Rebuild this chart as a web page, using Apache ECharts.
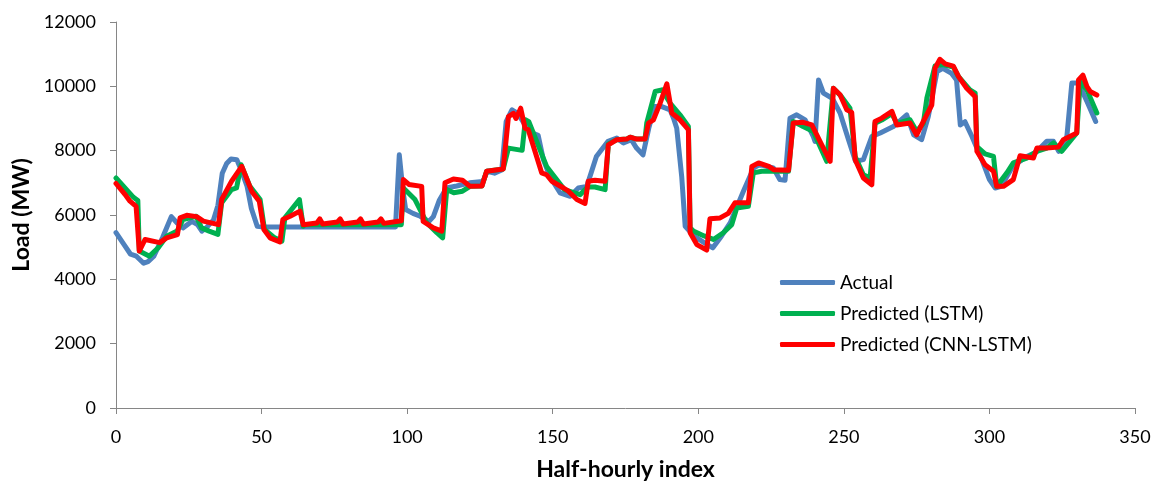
<!DOCTYPE html>
<html>
<head>
<meta charset="utf-8">
<script src="https://cdn.jsdelivr.net/npm/echarts@6/dist/echarts.min.js"></script>
<style>html,body{margin:0;padding:0;background:#fff;}#c{width:1166px;height:486px;}</style>
</head>
<body>
<div id="c"></div>
<script>
const seriesNames = ['Actual', 'Predicted (LSTM)', 'Predicted (CNN-LSTM)'];
const xTicks = [0, 50, 100, 150, 200, 250, 300, 350];
const yTicks = [0, 2000, 4000, 6000, 8000, 10000, 12000];

const actualX = [0,3,5,7,9.5,11,13,16,19,21,23,26,28,29.5,31,33.5,35,36.5,38,39.5,41.5,43,45,46.5,48.5,50,96,97.3,98.5,99.5,102,104.5,107.5,109,111,113.5,117,121.5,126,127.5,130,132.5,134,136,138,140.5,143,145,146.8,149,152.5,156,158.8,161.7,165,169,172,174.3,177,178.8,181,183,185,187.5,190.3,191.5,192.6,194.3,195.5,198.5,202,205,208,211,215.5,219,221,225.8,228,229.8,231.5,233.8,236.7,239.5,240.1,241.3,243,246,248.7,251.6,254,256.7,259.6,262.5,267,271.6,274,276.7,279,282,284,287,288.7,290,291.6,294,297.4,300,302,304,308,312.8,316,319.7,322,323.8,326.6,328.3,330.6,333.5,336.5];
const actualY = [5450,5050,4780,4720,4500,4550,4720,5300,5950,5750,5600,5800,5700,5500,5600,5850,6300,7300,7600,7740,7720,7400,6900,6200,5650,5630,5630,7870,6800,6170,6050,5960,5800,5950,6450,6840,6900,7000,7040,7360,7300,7400,8900,9270,9160,8800,8550,8480,7720,7200,6690,6580,6840,6890,7820,8290,8390,8240,8340,8080,7870,8700,9370,9370,9270,9010,8700,7200,5650,5350,5140,4980,5350,5760,6740,7460,7565,7460,7100,7080,9010,9115,8960,8440,8290,10200,9790,9630,9170,8340,7670,7720,8440,8550,8750,9110,8490,8340,9060,10460,10560,10400,10200,8800,8900,8440,7720,7100,6840,6890,7510,7820,7950,8290,8290,7980,8440,10100,10100,9530,8910];

const lstmX = [0,3,6,7.5,8,11.5,14.5,17.4,21,23,27.5,29.4,32,35,36.3,39.7,41.4,43,46,49.5,51,54.5,57,58,63,64.3,65,98,98.7,102.7,106.7,110.2,112.2,113.6,116,119,121.6,125.7,127.3,133,134.8,139.5,140.6,141.8,147.9,154,159.4,162,164.5,168,169.1,172,175.4,176.6,178.8,181.7,182.3,185.2,187.5,190.3,193.7,196.6,197.2,198.3,202,205.2,208.6,211.5,213.2,217.2,218.9,221.8,231,232.6,236,239.5,244.1,246.4,249,252.1,253.9,256.7,259,259.6,260.7,263,266.5,268.2,272.7,275,277.3,278.5,281.3,284,287.6,289.4,293.3,295.1,295.7,298.5,301.4,302.5,306,308.2,312.8,316.3,319.7,322,324.8,330,331.2,333.5,336.9];
const lstmY = [7150,6850,6550,6450,4880,4720,4980,5340,5500,5860,5960,5600,5500,5400,6380,6790,6840,7560,6890,6480,5550,5290,5190,5910,6480,5650,5700,5700,6840,6480,5760,5450,5290,6790,6690,6740,6890,6900,7360,7430,8080,8010,8960,8900,7510,6790,6630,6870,6870,6790,8210,8340,8360,8420,8360,8360,8860,9840,9890,9480,9115,8750,5600,5500,5350,5240,5450,5700,6220,6270,7310,7360,7360,8910,8750,8600,7670,9940,9700,9320,7820,7250,7150,7100,8850,8950,9150,8850,8960,8600,8850,9630,10630,10680,10600,10300,9890,9790,8130,7900,7820,6890,7310,7620,7770,7980,8080,8240,7980,8550,10150,9890,9170];

const cnnX = [0,3,4.8,6.9,8,10,15,17.4,21.1,22,24.3,27.7,30,35.2,36.3,39.7,43.2,46.6,49.2,50.8,52.9,56.3,57.3,59.8,63.2,64.3,69,70,71,76,77,78,83,84,85,90,91,92,98,98.7,100.6,105,105.5,109,111.9,113,115.9,119,121.6,125.7,127.3,133,134.8,136.5,137.4,139,140.5,141.6,146.2,147.9,149.7,153.7,155.4,158.3,161.1,162.2,164.5,168,169.1,172,175.4,176.6,178.8,181.7,182.9,184.6,186.9,189.2,190.9,193.7,196.6,197.2,199.5,202.9,204,207.5,210.3,212.6,217.2,218.4,220.7,224.2,225.9,231,232.6,236,239,242.4,245.3,246.4,248.7,251,252.7,253.9,256.7,259.6,260.7,263,266.5,268.2,272.7,275,277.3,280.2,281.3,283,284.8,287.6,289.4,292.2,295.1,295.7,298.5,301.4,302.5,304.8,308.2,310.5,315.1,316.3,319.7,323.7,325.4,330,330.6,332.1,333.5,334.6,336.9];
const cnnY = [6980,6650,6430,6270,4880,5240,5140,5290,5390,5910,5990,5950,5810,5700,6480,7050,7510,6740,6430,5550,5290,5160,5860,5960,6120,5700,5750,5880,5720,5780,5880,5720,5780,5880,5720,5780,5880,5740,5820,7100,6950,6890,5800,5600,5500,7000,7120,7080,6890,6900,7360,7430,9060,9160,9000,9320,8700,8650,7310,7250,7050,6840,6740,6480,6360,7050,7080,7050,8180,8340,8360,8420,8360,8360,8860,8960,9480,10080,9170,8960,8650,5450,5080,4910,5880,5910,6050,6380,6380,7510,7620,7510,7410,7390,8860,8880,8800,8180,7670,9940,9740,9270,9190,7720,7150,6940,8910,9010,9220,8800,8860,8490,8910,9420,10560,10840,10700,10630,10300,9940,9680,7980,7560,7360,6890,6890,7100,7840,7770,8080,8080,8110,8340,8550,10200,10350,9990,9840,9730];

const pairs = (xs, ys) => xs.map((x, i) => [x, ys[i]]);
const font = 'Lato, "Open Sans", sans-serif';
const chart = echarts.init(document.getElementById('c'));
const lineSeries = (name, xs, ys, color) => ({
  name, type: 'line', data: pairs(xs, ys), showSymbol: false, symbol: 'none',
  lineStyle: { width: 5, color, cap: 'round', join: 'round' }, itemStyle: { color },
  animation: false
});
chart.setOption({
  animation: false,
  grid: { left: 116, right: 31, top: 22, bottom: 77 },
  legend: {
    orient: 'vertical', left: 775, top: 268, itemWidth: 55, itemHeight: 5, itemGap: 12,
    icon: 'roundRect',
    textStyle: { fontFamily: font, fontSize: 19, lineHeight: 19, color: '#000' },
    data: seriesNames
  },
  xAxis: {
    type: 'value', min: 0, max: 350, interval: 50,
    name: 'Half-hourly index', nameLocation: 'middle', nameGap: 50,
    nameTextStyle: { fontFamily: font, fontSize: 23, fontWeight: 'bold', color: '#000' },
    axisLine: { lineStyle: { color: '#868686', width: 1 } },
    axisTick: { show: true, length: 6, lineStyle: { color: '#868686' } },
    axisLabel: { fontFamily: font, fontSize: 18, color: '#000', margin: 20 },
    splitLine: { show: false }
  },
  yAxis: {
    type: 'value', min: 0, max: 12000, interval: 2000,
    name: 'Load (MW)', nameLocation: 'middle', nameGap: 82, nameRotate: 90,
    nameTextStyle: { fontFamily: font, fontSize: 23, fontWeight: 'bold', color: '#000' },
    axisLine: { show: true, lineStyle: { color: '#868686', width: 1 } },
    axisTick: { show: true, length: 6, lineStyle: { color: '#868686' } },
    axisLabel: { fontFamily: font, fontSize: 18, color: '#000', margin: 20, formatter: v => String(v) },
    splitLine: { show: false }
  },
  series: [
    lineSeries(seriesNames[0], actualX, actualY, '#4F81BD'),
    lineSeries(seriesNames[1], lstmX, lstmY, '#00B050'),
    lineSeries(seriesNames[2], cnnX, cnnY, '#FF0000')
  ]
});
</script>
</body>
</html>
